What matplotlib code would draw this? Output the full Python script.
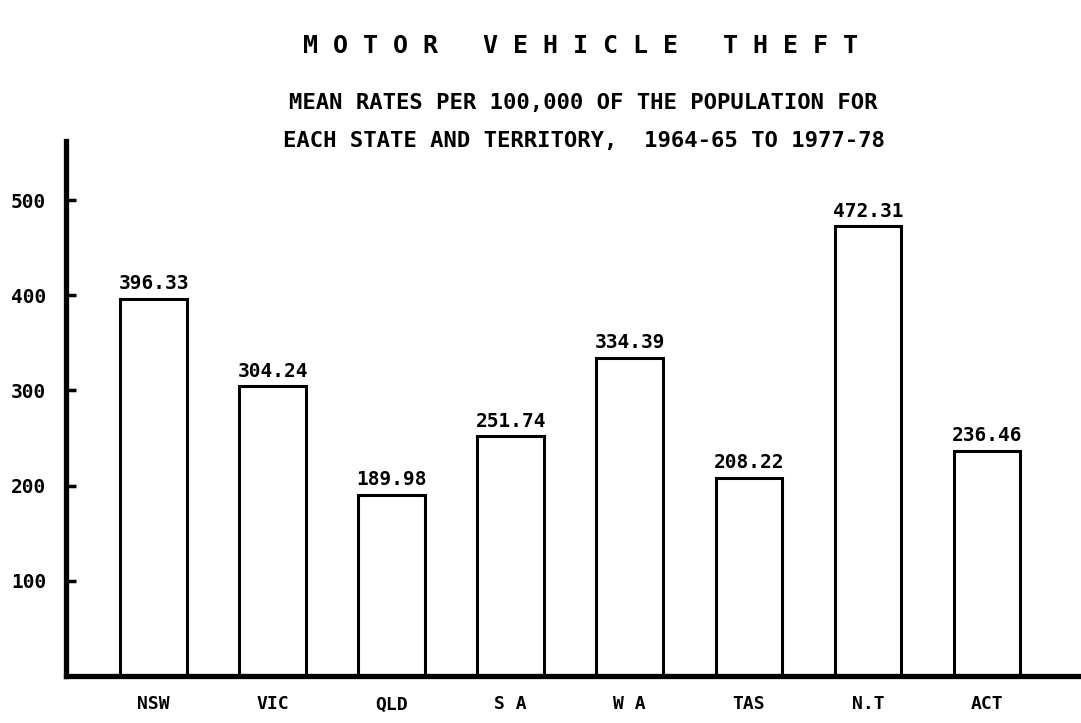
import matplotlib.pyplot as plt
import numpy as np

# data
states = ['NSW', 'VIC', 'QLD', 'S A', 'W A', 'TAS', 'N.T', 'ACT']
rates = [396.33, 304.24, 189.98, 251.74, 334.39, 208.22, 472.31, 236.46]
yticks = [100, 200, 300, 400, 500]

plt.rcParams['font.family'] = ['DejaVu Sans Mono']
plt.rcParams['font.weight'] = 'bold'

fig = plt.figure(figsize=(10.81, 7.23), dpi=100)
ax = fig.add_axes([0.0606, 0.065, 0.9394, 0.74])

x = np.arange(len(states))
bars = ax.bar(x, rates, width=0.56, facecolor='white', edgecolor='black', linewidth=2.2)

# value labels above bars
for xi, v in zip(x, rates):
    ax.text(xi, v + 6, f'{v:.2f}', ha='center', va='bottom', fontsize=14)

ax.set_xlim(-0.74, 7.79)
ax.set_ylim(0, 562)

ax.set_xticks(x)
ax.set_xticklabels(states, fontsize=13)
ax.set_yticks(yticks)
ax.set_yticklabels([str(t) for t in yticks], fontsize=14)
ax.tick_params(axis='x', length=0, pad=14)
ax.tick_params(axis='y', direction='in', length=7, width=2.5, pad=14)

for s in ['top', 'right']:
    ax.spines[s].set_visible(False)
ax.spines['left'].set_linewidth(3.8)
ax.spines['bottom'].set_linewidth(3.8)

fig.text(0.537, 0.937, 'M O T O R   V E H I C L E   T H E F T',
         ha='center', va='center', fontsize=18)
fig.text(0.540, 0.858, 'MEAN RATES PER 100,000 OF THE POPULATION FOR',
         ha='center', va='center', fontsize=16)
fig.text(0.540, 0.805, 'EACH STATE AND TERRITORY,  1964-65 TO 1977-78',
         ha='center', va='center', fontsize=16)

fig.savefig('out.png', dpi=100)
